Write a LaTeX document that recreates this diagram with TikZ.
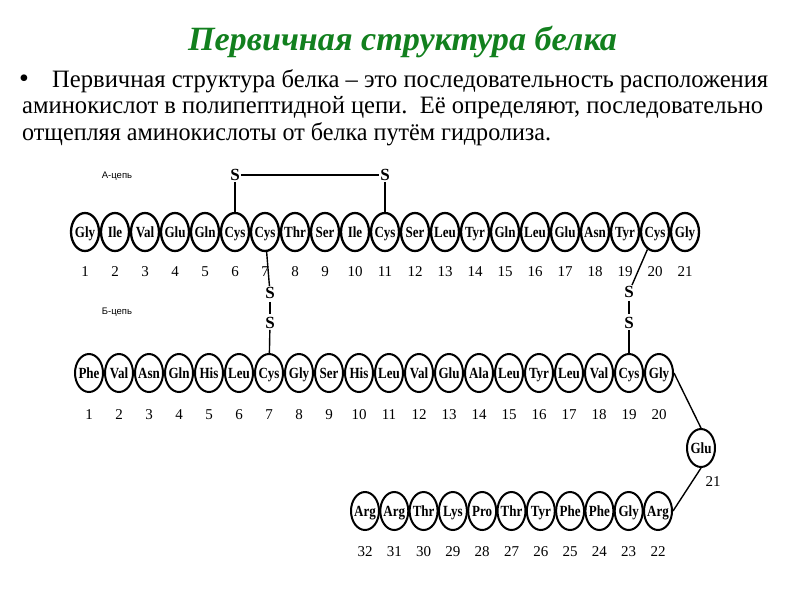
\documentclass[tikz,border=0pt]{standalone}
\usepackage{fontspec}
\usepackage{graphicx}
\setmainfont{Liberation Serif}
\newfontfamily\labfont{Liberation Sans}
\newfontfamily\bodyfont{Liberation Serif}
\usetikzlibrary{shapes.geometric}
\definecolor{titlegreen}{RGB}{18,128,30}
\newcommand\amino[1]{\makebox[0pt]{\scalebox{0.84}[1]{#1}}}
\begin{document}
\begin{tikzpicture}[x=1pt,y=-1pt,
  aa/.style={ellipse, draw, line width=2pt, minimum width=28pt, minimum height=38pt, inner sep=0pt,
    text height=10pt, text depth=0pt,
    font=\fontsize{15.5}{15.5}\selectfont\bfseries},
  aaA/.style={aa, line width=2.3pt},
  num/.style={inner sep=0pt, font=\fontsize{15}{15}\selectfont},
  sulf/.style={inner sep=1pt, font=\fontsize{17}{17}\selectfont\bfseries},
  bond/.style={line width=1.4pt},
  chainlab/.style={inner sep=0pt, font=\labfont\fontsize{9.5}{10}\selectfont},
  body/.style={inner sep=0pt, anchor=base west, font=\bodyfont\fontsize{25}{28}\selectfont}]
\useasboundingbox (0,0) rectangle (800,600);
% title
\node[inner sep=0pt, anchor=base, text=titlegreen] (title) at (402.5,50)
  {\resizebox{429pt}{\height}{\fontsize{34}{34}\selectfont\bfseries\itshape Первичная структура белка}};
% body text
\node[inner sep=0pt, anchor=base, font=\bodyfont\fontsize{28}{28}\selectfont] (bullet) at (24,87) {•};
\node[body] (l1) at (52,87) {\resizebox{716pt}{\height}{Первичная структура белка – это последовательность расположения}};
\node[body] (l2) at (22,113) {\resizebox{741pt}{\height}{аминокислот в полипептидной цепи.\ \ Её определяют, последовательно}};
\node[body] (l3) at (22,140) {\resizebox{529pt}{\height}{отщепляя аминокислоты от белка путём гидролиза.}};
% chain labels
\node[chainlab] (labA) at (117,176) {А-цепь};
\node[chainlab] (labB) at (117,312) {Б-цепь};
% A chain
\foreach \n [count=\i] in {Gly,Ile,Val,Glu,Gln,Cys,Cys,Thr,Ser,Ile,Cys,Ser,Leu,Tyr,Gln,Leu,Glu,Asn,Tyr,Cys,Gly}{
  \node[aaA] (a\i) at ({85+30*(\i-1)},232) {\amino{\n}};
  \node[num] (an\i) at ({85+30*(\i-1)},272) {\i};
}
% B chain
\foreach \n [count=\i] in {Phe,Val,Asn,Gln,His,Leu,Cys,Gly,Ser,His,Leu,Val,Glu,Ala,Leu,Tyr,Leu,Val,Cys,Gly}{
  \node[aa] (b\i) at ({89+30*(\i-1)},373) {\amino{\n}};
  \node[num] (bn\i) at ({89+30*(\i-1)},415) {\i};
}
\node[aa] (b21) at (701,448) {\amino{Glu}};
\node[num] (bn21) at (713,482) {21};
\foreach \n [count=\k] in {Arg,Gly,Phe,Phe,Tyr,Thr,Pro,Lys,Thr,Arg,Arg}{
  \pgfmathtruncatemacro\i{21+\k}
  \node[aa] (b\i) at ({658-29.3*(\k-1)},511) {\amino{\n}};
  \node[num] (bn\i) at ({658-29.3*(\k-1)},552) {\i};
}
\draw[bond] (b20.east) -- (b21.north);
\draw[bond] (b21.south) -- (b22.east);
% disulfide bridges
\node[sulf] (sa1) at (235,175) {S};
\node[sulf] (sa2) at (385,175) {S};
\draw[bond] (sa1) -- (sa2);
\draw[bond] (sa1) -- (a6);
\draw[bond] (sa2) -- (a11);
\node[sulf] (s7a) at (270,293) {S};
\node[sulf] (s7b) at (270,323) {S};
\draw[bond] (a7) -- (s7a);
\draw[bond, shorten <=2pt, shorten >=2pt] (s7a) -- (s7b);
\draw[bond] (s7b) -- (b7);
\node[sulf] (s19a) at (629,292) {S};
\node[sulf] (s19b) at (629,323) {S};
\draw[bond] (a20) -- (s19a);
\draw[bond, shorten <=2pt, shorten >=2pt] (s19a) -- (s19b);
\draw[bond] (s19b) -- (b19);
\end{tikzpicture}
\end{document}
